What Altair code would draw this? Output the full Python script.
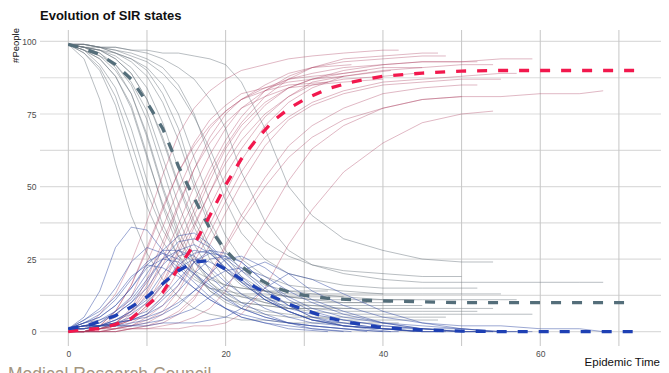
import altair as alt
import pandas as pd

TITLE = "Evolution of SIR states"
Y_TITLE = "#People"
X_TITLE = "Epidemic Time"
CAPTION = "Medical Research Council"

X_TICKS = [0, 20, 40, 60]
Y_TICKS = [0, 25, 50, 75, 100]
X_GRID = [0, 10, 20, 30, 40, 50, 60, 70]
Y_GRID = [0, 12.5, 25, 37.5, 50, 62.5, 75, 87.5, 100]

STATES = ["S", "I", "R"]

RUN_T = [
    [0,2,4,6,8,10,12,14,16,18,20,22,25,28,31,35,40,42],
    [0,2,4,6,8,10,12,14,16,18,20,22,25,28,31,35,40,45,50,55,59],
    [0,2,4,6,8,10,12,14,16,18,20,22,25,28,31,35,40,45,50,54],
    [0,2,4,6,8,10,12,14,16,18,20,22,25,28,31,35,40,45,50,55,57],
    [0,2,4,6,8,10,12,14,16,18,20,22,25,28,31,35,40,45,50,54],
    [0,2,4,6,8,10,12,14,16,18,20,22,25,28,31,35,40,45,50,52],
    [0,2,4,6,8,10,12,14,16,18,20,22,25,28,31,35,40,45,50,52],
    [0,2,4,6,8,10,12,14,16,18,20,22,25,28,31,35,40,45,50,55,60,65,68],
    [0,2,4,6,8,10,12,14,16,18,20,22,25,28,31,35,40,45,50],
    [0,2,4,6,8,10,12,14,16,18,20,22,25,28,31,35,40,45,50,55],
    [0,2,4,6,8,10,12,14,16,18,20,22,25,28,31,35,40],
    [0,2,4,6,8,10,12,14,16,18,20,22,25,28,31,35,38],
    [0,2,4,6,8,10,12,14,16,18,20,22,25,28,31,35,40,45],
    [0,2,4,6,8,10,12,14,16,18,20,22,25,28,31,35],
    [0,2,4,6,8,10,12,14,16,18,20,22,25,28,31,35,40,45,48],
    [0,2,4,6,8,10,12,14,16,18,20,22,25,28,31,36],
    [0,2,4,6,8,10,12,14,16,18,20,22,25,28,31,35,40,44],
    [0,2,4,6,8,10,12,14,16,18,20,22,25,28,33],
    [0,2,4,6,8,10,12,14,16,18,20,22,25,28,31,35,40,45,47],
    [0,2,4,6,8,10,12,14,16,18,20,22,25,28,31,35,41],
]
RUN_S = [
    [99,94,80,58,40,27,18,12,8,6,5,4,4,3,3,3,3,3],
    [99,98,97,94,89,80,66,50,36,25,18,13,10,8,7,6,6,6,6,6,6],
    [99,99,98,98,97,97,96,96,95,94,92,86,70,50,40,32,28,25,24,24],
    [99,98,97,96,94,90,82,70,52,38,28,21,16,14,13,12,11,11,11,11,11],
    [99,97,95,92,86,76,60,44,30,21,15,12,10,9,9,8,8,8,8,8],
    [99,99,98,97,96,94,91,85,75,60,45,34,25,20,18,16,15,15,15,15],
    [99,98,95,90,82,68,50,35,24,17,13,10,9,8,8,7,7,7,7,7],
    [99,99,98,98,97,96,94,91,87,80,70,55,38,28,23,20,18,17,17,17,17,17,17],
    [99,99,98,97,95,93,89,83,74,63,50,40,31,26,23,21,20,19,19],
    [99,98,98,96,94,91,85,75,60,45,33,25,19,16,15,14,13,13,13,13],
    [99,97,94,88,77,60,44,32,24,19,16,15,14,13,13,13,13],
    [99,97,92,84,70,52,37,26,19,15,13,12,11,10,10,10,10],
    [99,98,97,95,91,84,72,56,41,29,21,16,12,10,9,9,9,9],
    [99,96,90,78,60,43,31,23,18,15,14,13,13,12,12,12],
    [99,98,96,92,85,73,56,39,26,17,12,9,7,6,5,5,5,5,5],
    [99,97,94,88,78,61,43,29,20,14,11,10,9,8,8,8],
    [99,98,97,94,89,80,67,51,38,28,21,17,14,12,11,11,11,11],
    [99,96,91,81,65,48,35,26,21,18,16,15,14,14,14],
    [99,98,96,91,82,67,49,33,21,14,10,8,6,5,5,4,4,4,4],
    [99,99,98,96,93,88,79,66,50,36,26,19,14,12,11,10,10],
]
RUN_I = [
    [1,5,14,29,36,35,28,20,15,11,8,6,4,3,2,1,0,0],
    [1,2,2,4,7,12,20,26,28,27,22,18,12,8,6,4,2,1,1,0,0],
    [1,1,2,2,2,2,3,3,3,4,5,8,15,20,18,13,7,3,1,0],
    [1,2,2,3,4,6,11,16,24,28,27,24,17,12,8,5,3,2,1,0,0],
    [1,3,4,6,10,15,23,28,30,27,22,17,11,7,4,3,1,1,0,0],
    [1,1,2,2,3,4,6,9,14,20,25,26,22,16,11,7,3,1,0,0],
    [1,2,4,7,11,18,25,28,26,22,17,13,8,5,3,2,1,0,0,0],
    [1,1,2,2,2,3,4,6,8,12,16,21,24,20,14,9,5,3,2,2,1,1,0],
    [1,1,2,3,4,5,7,10,14,18,21,22,19,14,10,6,3,1,0],
    [1,2,2,3,4,6,9,14,20,25,26,24,17,11,7,4,2,1,0,0],
    [1,3,5,9,15,22,25,24,20,16,12,8,5,3,2,1,0],
    [1,3,6,11,18,24,27,25,20,15,11,8,5,3,2,1,0],
    [1,2,2,4,6,10,16,23,27,28,25,21,14,9,5,3,1,0],
    [1,4,8,15,24,29,27,22,17,12,8,5,3,2,1,0],
    [1,2,3,6,10,17,25,31,32,29,24,19,12,7,4,2,1,0,0],
    [1,3,5,9,15,23,28,28,24,19,14,10,6,3,1,0],
    [1,2,2,4,7,11,17,22,25,24,21,17,11,7,4,2,1,0],
    [1,4,7,12,19,23,22,19,15,11,8,5,3,1,0],
    [1,2,3,7,12,20,28,33,34,30,24,18,11,7,4,2,1,0,0],
    [1,1,2,3,5,7,12,18,24,27,26,22,15,9,5,2,0],
]
RUN_R = [
    [0,1,6,13,24,38,54,68,77,83,87,90,92,94,95,96,97,97],
    [0,0,1,2,4,8,14,24,36,48,60,69,78,84,87,90,92,93,93,94,94],
    [0,0,0,0,1,1,1,1,2,2,3,6,15,30,42,55,65,72,75,76],
    [0,0,1,1,2,4,7,14,24,34,45,55,67,74,79,83,86,87,88,89,89],
    [0,0,1,2,4,9,17,28,40,52,63,71,79,84,87,89,91,91,92,92],
    [0,0,0,1,1,2,3,6,11,20,30,40,53,64,71,77,82,84,85,85],
    [0,0,1,3,7,14,25,37,50,61,70,77,83,87,89,91,92,93,93,93],
    [0,0,0,0,1,1,2,3,5,8,14,24,38,52,63,71,77,80,81,81,82,82,83],
    [0,0,0,0,1,2,4,7,12,19,29,38,50,60,67,73,77,80,81],
    [0,0,0,1,2,3,6,11,20,30,41,51,64,73,78,82,85,86,87,87],
    [0,0,1,3,8,18,31,44,56,65,72,77,81,84,85,86,87],
    [0,0,2,5,12,24,36,49,61,70,76,80,84,87,88,89,90],
    [0,0,1,1,3,6,12,21,32,43,54,63,74,81,86,88,90,91],
    [0,0,2,7,16,28,42,55,65,73,78,82,84,86,87,88],
    [0,0,1,2,5,10,19,30,42,54,64,72,81,87,91,93,94,95,95],
    [0,0,1,3,7,16,29,43,56,67,75,80,85,89,91,92],
    [0,0,1,2,4,9,16,27,37,48,58,66,75,81,85,87,88,89],
    [0,0,2,7,16,29,43,55,64,71,76,80,83,85,86],
    [0,0,1,2,6,13,23,34,45,56,66,74,83,88,91,94,95,96,96],
    [0,0,0,1,2,5,9,16,26,37,48,59,71,79,84,88,90],
]

MEAN_T = [0,2,4,6,8,10,12,14,16,18,20,22,24,26,28,30,33,36,40,45,50,55,60,65,72]
MEAN_S = [99,97.5,95.5,92,87,79,70,57,46,35.5,28,22.5,18.5,15.5,13.7,12.5,11.5,11,10.6,10.3,10,10,10,10,10]
MEAN_I = [1,1.7,3.5,5.5,8.5,12,16.5,21,24,24.5,21.5,18,15,12,9.5,7.5,4.8,3,1.4,0.6,0.2,0,0,0,0]
MEAN_R = [0,0.8,1,2.5,4.5,9,13.5,22,30,40,50.5,59.5,66.5,72.5,76.8,80,83.7,86,88,89.1,89.8,90,90,90,90]

THIN_COLORS = {"S": "#6b777e", "I": "#2f47a3", "R": "#a8375a"}
THIN_OPACITY = {"S": 0.6, "I": 0.6, "R": 0.45}
MEAN_COLORS = {"S": "#546e7a", "I": "#1e40b4", "R": "#f2184d"}

FONT = "Liberation Sans"

# ---- tables built from the arrays
rows = []
series = {"S": RUN_S, "I": RUN_I, "R": RUN_R}
for st in STATES:
    for k, ts in enumerate(RUN_T):
        for t, v in zip(ts, series[st][k]):
            rows.append({"run": f"{st}{k}", "state": st, "t": t, "value": v})
runs = pd.DataFrame(rows)

mrows = []
mser = {"S": MEAN_S, "I": MEAN_I, "R": MEAN_R}
for st in STATES:
    for t, v in zip(MEAN_T, mser[st]):
        mrows.append({"state": st, "t": t, "value": v})
means = pd.DataFrame(mrows)

xscale = alt.Scale(domain=[-3.6, 75.35], nice=False, zero=False)
yscale = alt.Scale(domain=[-4.95, 103.95], nice=False, zero=False)

xax = alt.Axis(values=X_TICKS, title=None, domain=False, ticks=False, grid=False,
               labelFont=FONT, labelFontSize=8.5, labelColor="#4d4d4d", labelPadding=3)
yax = alt.Axis(values=Y_TICKS, title=None, domain=False, ticks=False, grid=False,
               labelFont=FONT, labelFontSize=8.5, labelColor="#4d4d4d", labelPadding=4)

hgrid = alt.Chart(pd.DataFrame({"y": Y_GRID})).mark_rule(color="#dcdcdc", strokeWidth=1.2).encode(
    y=alt.Y("y:Q", scale=yscale, axis=yax))
vgrid = alt.Chart(pd.DataFrame({"x": X_GRID})).mark_rule(color="#c6c6c6", strokeWidth=1).encode(
    x=alt.X("x:Q", scale=xscale, axis=xax))

layers = [hgrid, vgrid]
for st in ["S", "R", "I"]:
    layers.append(
        alt.Chart(runs[runs.state == st]).mark_line(
            strokeWidth=0.8, color=THIN_COLORS[st], opacity=THIN_OPACITY[st]
        ).encode(
            x=alt.X("t:Q", scale=xscale, axis=xax),
            y=alt.Y("value:Q", scale=yscale, axis=yax),
            detail="run:N",
        )
    )
for st in ["S", "R", "I"]:
    layers.append(
        alt.Chart(means[means.state == st]).mark_line(
            strokeWidth=3.3, color=MEAN_COLORS[st], strokeDash=[10, 11]
        ).encode(
            x=alt.X("t:Q", scale=xscale, axis=xax),
            y=alt.Y("value:Q", scale=yscale, axis=yax),
        )
    )

def label(txt, x, y, **kw):
    return alt.Chart(pd.DataFrame({"txt": [txt]})).mark_text(**kw).encode(
        text="txt:N", x=alt.value(x), y=alt.value(y))

layers.append(label(TITLE, 0, -10.5, font=FONT, fontSize=13, fontWeight="bold",
                    align="left", baseline="alphabetic", color="#111111"))
layers.append(label(Y_TITLE, -21, -2, font=FONT, fontSize=9.5, angle=270,
                    align="right", baseline="alphabetic", color="#111111"))
layers.append(label(X_TITLE, 620, 336, font=FONT, fontSize=11.5,
                    align="right", baseline="alphabetic", color="#111111"))
layers.append(label(CAPTION, -32, 350, font=FONT, fontSize=17.5,
                    align="left", baseline="alphabetic", color="#a39580"))

chart = alt.layer(*layers).properties(
    width=621, height=316,
    padding={"left": 32, "top": 22, "right": 0, "bottom": 27},
    autosize=alt.AutoSizeParams(type="none"),
).configure_view(strokeWidth=0)

chart.save("out.html", embed_options={"renderer": "svg", "actions": False})
